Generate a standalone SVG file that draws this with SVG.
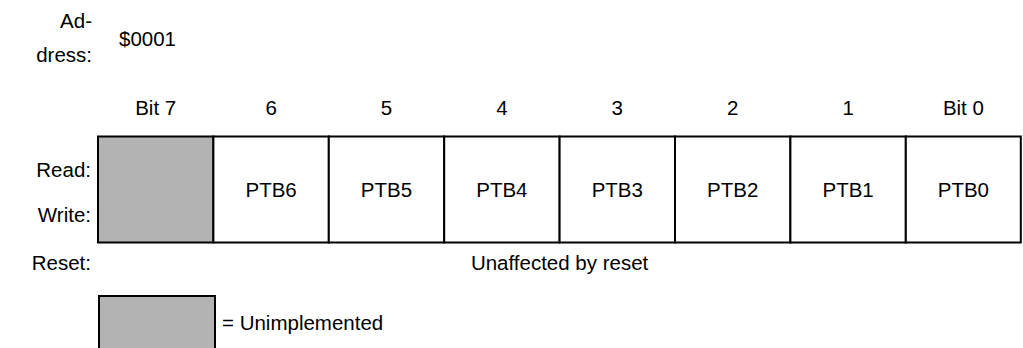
<svg xmlns="http://www.w3.org/2000/svg" width="1023" height="348" viewBox="0 0 1023 348">
<style>
text{font-family:"Liberation Sans",Arial,sans-serif;font-size:20.5px;fill:#000}
.r{text-anchor:end}
.m{text-anchor:middle}
.cell{fill:#fff;stroke:#000;stroke-width:2}
.un{fill:#b3b3b3;stroke:#000;stroke-width:2}
</style>
<rect width="1023" height="348" fill="#fff"/>
<g id="address">
<text class="r" x="92" y="28">Ad-</text>
<text class="r" x="92" y="62">dress:</text>
<text x="119" y="46">$0001</text>
</g>
<g id="header">
<text class="m" x="155.7" y="115">Bit 7</text>
<text class="m" x="271.1" y="115">6</text>
<text class="m" x="386.5" y="115">5</text>
<text class="m" x="501.9" y="115">4</text>
<text class="m" x="617.3" y="115">3</text>
<text class="m" x="732.7" y="115">2</text>
<text class="m" x="848.1" y="115">1</text>
<text class="m" x="963.4" y="115">Bit 0</text>
</g>
<g id="rowlabels">
<text class="r" x="91" y="177">Read:</text>
<text class="r" x="91" y="222">Write:</text>
<text class="r" x="91" y="270">Reset:</text>
</g>
<g id="bit7"><rect class="un" x="98" y="136.5" width="115.4" height="106"/></g>
<g id="bit6"><rect class="cell" x="213.4" y="136.5" width="115.4" height="106"/><text class="m" x="271.1" y="197">PTB6</text></g>
<g id="bit5"><rect class="cell" x="328.8" y="136.5" width="115.4" height="106"/><text class="m" x="386.5" y="197">PTB5</text></g>
<g id="bit4"><rect class="cell" x="444.2" y="136.5" width="115.4" height="106"/><text class="m" x="501.9" y="197">PTB4</text></g>
<g id="bit3"><rect class="cell" x="559.6" y="136.5" width="115.4" height="106"/><text class="m" x="617.3" y="197">PTB3</text></g>
<g id="bit2"><rect class="cell" x="675" y="136.5" width="115.4" height="106"/><text class="m" x="732.7" y="197">PTB2</text></g>
<g id="bit1"><rect class="cell" x="790.4" y="136.5" width="115.4" height="106"/><text class="m" x="848.1" y="197">PTB1</text></g>
<g id="bit0"><rect class="cell" x="905.8" y="136.5" width="115" height="106"/><text class="m" x="963.4" y="197">PTB0</text></g>
<g id="reset"><text class="m" x="559.6" y="270">Unaffected by reset</text></g>
<g id="legend">
<rect class="un" x="99" y="296" width="116" height="60"/>
<text x="222" y="330">= Unimplemented</text>
</g>
<g id="connectors"></g>
</svg>
